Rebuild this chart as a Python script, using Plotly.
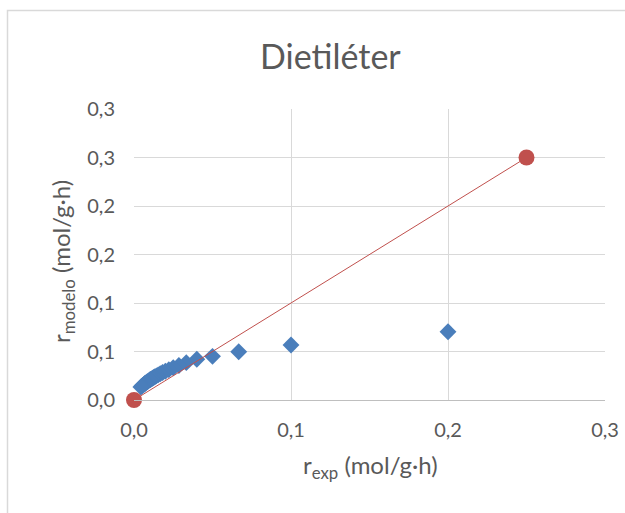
import plotly.graph_objects as go

# Experimental vs. model rate (mol/g·h)
r_exp = [0.2, 0.1, 0.0667, 0.05, 0.04, 0.0333, 0.0286, 0.025, 0.0222, 0.02,
         0.0182, 0.0167, 0.0154, 0.0143, 0.0133, 0.0125, 0.0118, 0.0111, 0.0105, 0.01,
         0.0091, 0.0083, 0.0077, 0.0071, 0.0067, 0.0061, 0.0056, 0.005, 0.0044]
r_modelo = [0.0704, 0.0567, 0.0498, 0.0450, 0.0420, 0.0385, 0.0355, 0.0333, 0.0313, 0.0297,
            0.0283, 0.0270, 0.0259, 0.0249, 0.0240, 0.0232, 0.0225, 0.0218, 0.0212, 0.0206,
            0.0196, 0.0187, 0.0179, 0.0172, 0.0166, 0.0158, 0.0151, 0.0143, 0.0134]

# Reference diagonal
diag_x = [0.0, 0.25]
diag_y = [0.0, 0.25]

y_ticks = [0.0, 0.05, 0.1, 0.15, 0.2, 0.25, 0.3]
y_labels = ["0,0", "0,1", "0,1", "0,2", "0,2", "0,3", "0,3"]
x_ticks = [0.0, 0.1, 0.2, 0.3]
x_labels = ["0,0", "0,1", "0,2", "0,3"]

FONT = "Lato, 'Open Sans', sans-serif"
TXT = "#595959"
GRID = "#d9d9d9"

fig = go.Figure()
fig.add_trace(go.Scatter(
    x=r_exp, y=r_modelo, mode="markers",
    marker=dict(symbol="diamond", size=13, color="#4a7ebb"),
    showlegend=False, cliponaxis=False))
fig.add_trace(go.Scatter(
    x=diag_x, y=diag_y, mode="lines+markers",
    line=dict(color="#c0504d", width=1),
    marker=dict(symbol="circle", size=16, color="#c0504d"),
    showlegend=False, cliponaxis=False))

W, H = 625, 513
L, R, T, B = 134, 20, 109, 113
pw = W - L - R
ph = H - T - B

def px_x(p):
    return (p - L) / pw

def px_y(p):
    return (H - B - p) / ph

fig.update_layout(
    width=W, height=H,
    margin=dict(l=L, r=R, t=T, b=B, autoexpand=False),
    paper_bgcolor="white", plot_bgcolor="white",
    font=dict(family=FONT, color=TXT),
    xaxis=dict(range=[0, 0.3], tickvals=x_ticks, ticktext=x_labels,
               showgrid=True, gridcolor=GRID, gridwidth=1, automargin=False,
               zeroline=False, showline=True, linecolor="#bfbfbf", linewidth=1,
               ticks="", ticklabelstandoff=12,
               tickfont=dict(size=20, color=TXT, family=FONT)),
    yaxis=dict(range=[0, 0.3], tickvals=y_ticks, ticktext=y_labels,
               showgrid=True, gridcolor=GRID, gridwidth=1, automargin=False,
               zeroline=False, showline=False,
               ticks="", ticklabelstandoff=18,
               tickfont=dict(size=20, color=TXT, family=FONT)),
    annotations=[
        dict(text="Dietiléter", x=px_x(330), y=px_y(55), xref="paper", yref="paper",
             showarrow=False, font=dict(size=34, color=TXT, family=FONT),
             xanchor="center", yanchor="middle"),
        dict(text="r<sub>exp</sub> (mol/g·h)", x=px_x(370), y=px_y(466),
             xref="paper", yref="paper", showarrow=False,
             font=dict(size=24, color=TXT, family=FONT),
             xanchor="center", yanchor="middle"),
        dict(text="r<sub>modelo</sub> (mol/g·h)", x=px_x(62), y=px_y(262),
             xref="paper", yref="paper", showarrow=False, textangle=-90,
             font=dict(size=24, color=TXT, family=FONT),
             xanchor="center", yanchor="middle"),
    ],
    shapes=[
        dict(type="rect", xref="paper", yref="paper",
             x0=px_x(7.5), y0=px_y(540), x1=px_x(650), y1=px_y(10.5),
             line=dict(color=GRID, width=1.5), layer="below"),
    ],
)

fig.write_html("out.html")
